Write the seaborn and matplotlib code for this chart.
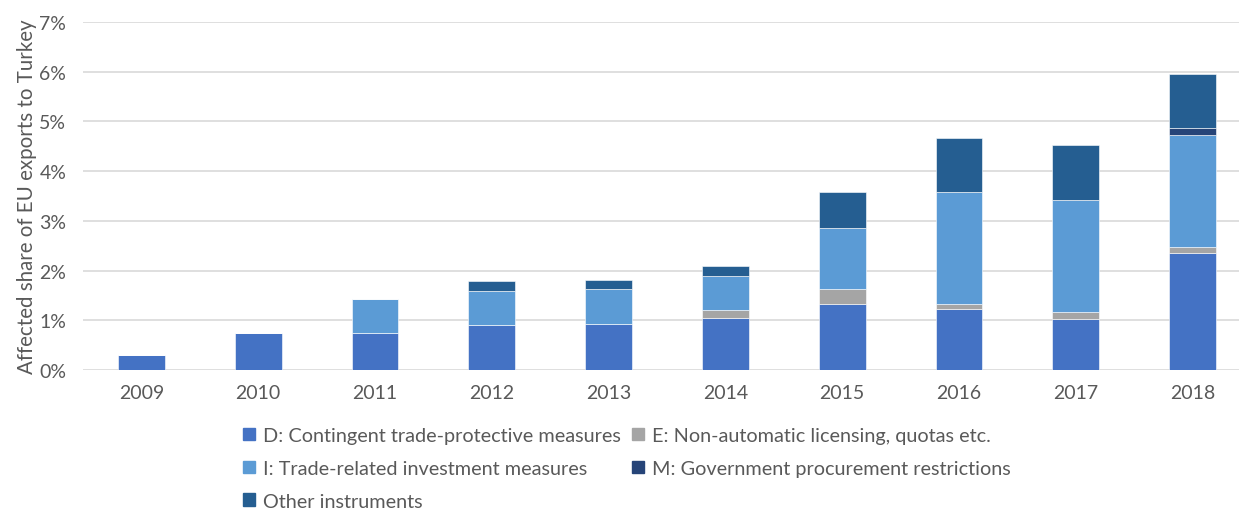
import matplotlib
matplotlib.use("Agg")
import matplotlib.pyplot as plt
import matplotlib.patches as mpatches
from matplotlib.ticker import PercentFormatter
import numpy as np
import seaborn as sns

# Data (share of EU exports to Turkey, in %)
years = ["2009", "2010", "2011", "2012", "2013", "2014", "2015", "2016", "2017", "2018"]
d_contingent = [0.30, 0.74, 0.75, 0.90, 0.92, 1.04, 1.32, 1.22, 1.03, 2.36]
e_licensing = [0, 0, 0, 0, 0, 0.16, 0.30, 0.11, 0.13, 0.12]
i_investment = [0, 0, 0.68, 0.69, 0.70, 0.69, 1.24, 2.26, 2.26, 2.25]
m_procurement = [0, 0, 0, 0, 0, 0, 0, 0, 0, 0.13]
other_instr = [0, 0, 0, 0.20, 0.20, 0.20, 0.73, 1.08, 1.10, 1.09]

series = [
    ("D: Contingent trade-protective measures", d_contingent, "#4472C4"),
    ("E: Non-automatic licensing, quotas etc.", e_licensing, "#A5A5A5"),
    ("I: Trade-related investment measures", i_investment, "#5B9BD5"),
    ("M: Government procurement restrictions", m_procurement, "#264478"),
    ("Other instruments", other_instr, "#255E91"),
]

sns.set_style("white")
plt.rcParams["font.family"] = ["Lato", "DejaVu Sans"]
text_col = "#595959"

fig = plt.figure(figsize=(12.39, 5.10), dpi=100)
ax = fig.add_axes([83 / 1239, 139 / 510, (1251 - 83) / 1239, 348 / 510])

bottom = np.zeros(len(years))
for name, vals, col in series:
    sns.barplot(x=years, y=vals, bottom=bottom, color=col, width=0.4, saturation=1,
                edgecolor="white", linewidth=0.4, ax=ax)
    bottom = bottom + np.array(vals)

ax.set_xlim(-0.5, len(years) - 0.5)
ax.set_ylim(0, 7)
ax.set_yticks(range(0, 8))
ax.yaxis.set_major_formatter(PercentFormatter(decimals=0))
ax.grid(axis="y", color="#D9D9D9", linewidth=1.2)
ax.set_axisbelow(True)
for s in ax.spines.values():
    s.set_visible(False)
ax.tick_params(axis="both", length=0, labelsize=14, colors=text_col)
ax.tick_params(axis="y", pad=12)
ax.tick_params(axis="x", pad=10)
ax.set_ylabel("Affected share of EU exports to Turkey", fontsize=14.8, color=text_col, labelpad=2)
ax.set_xlabel("")

# legend: row-wise order D, E / I, M / Other
handles = [mpatches.Patch(color=c, label=n) for n, _, c in series]
order = [0, 2, 4, 1, 3]
fig.legend([handles[i] for i in order], [handles[i].get_label() for i in order],
           loc="upper left", bbox_to_anchor=(243 / 1239, 1 - 428 / 510), ncol=2,
           frameon=False, fontsize=14.3, labelcolor=text_col,
           handlelength=0.6, handleheight=0.6, handletextpad=0.4,
           columnspacing=0.55, labelspacing=0.8, borderaxespad=0, borderpad=0)

fig.savefig("out.png", dpi=100)
